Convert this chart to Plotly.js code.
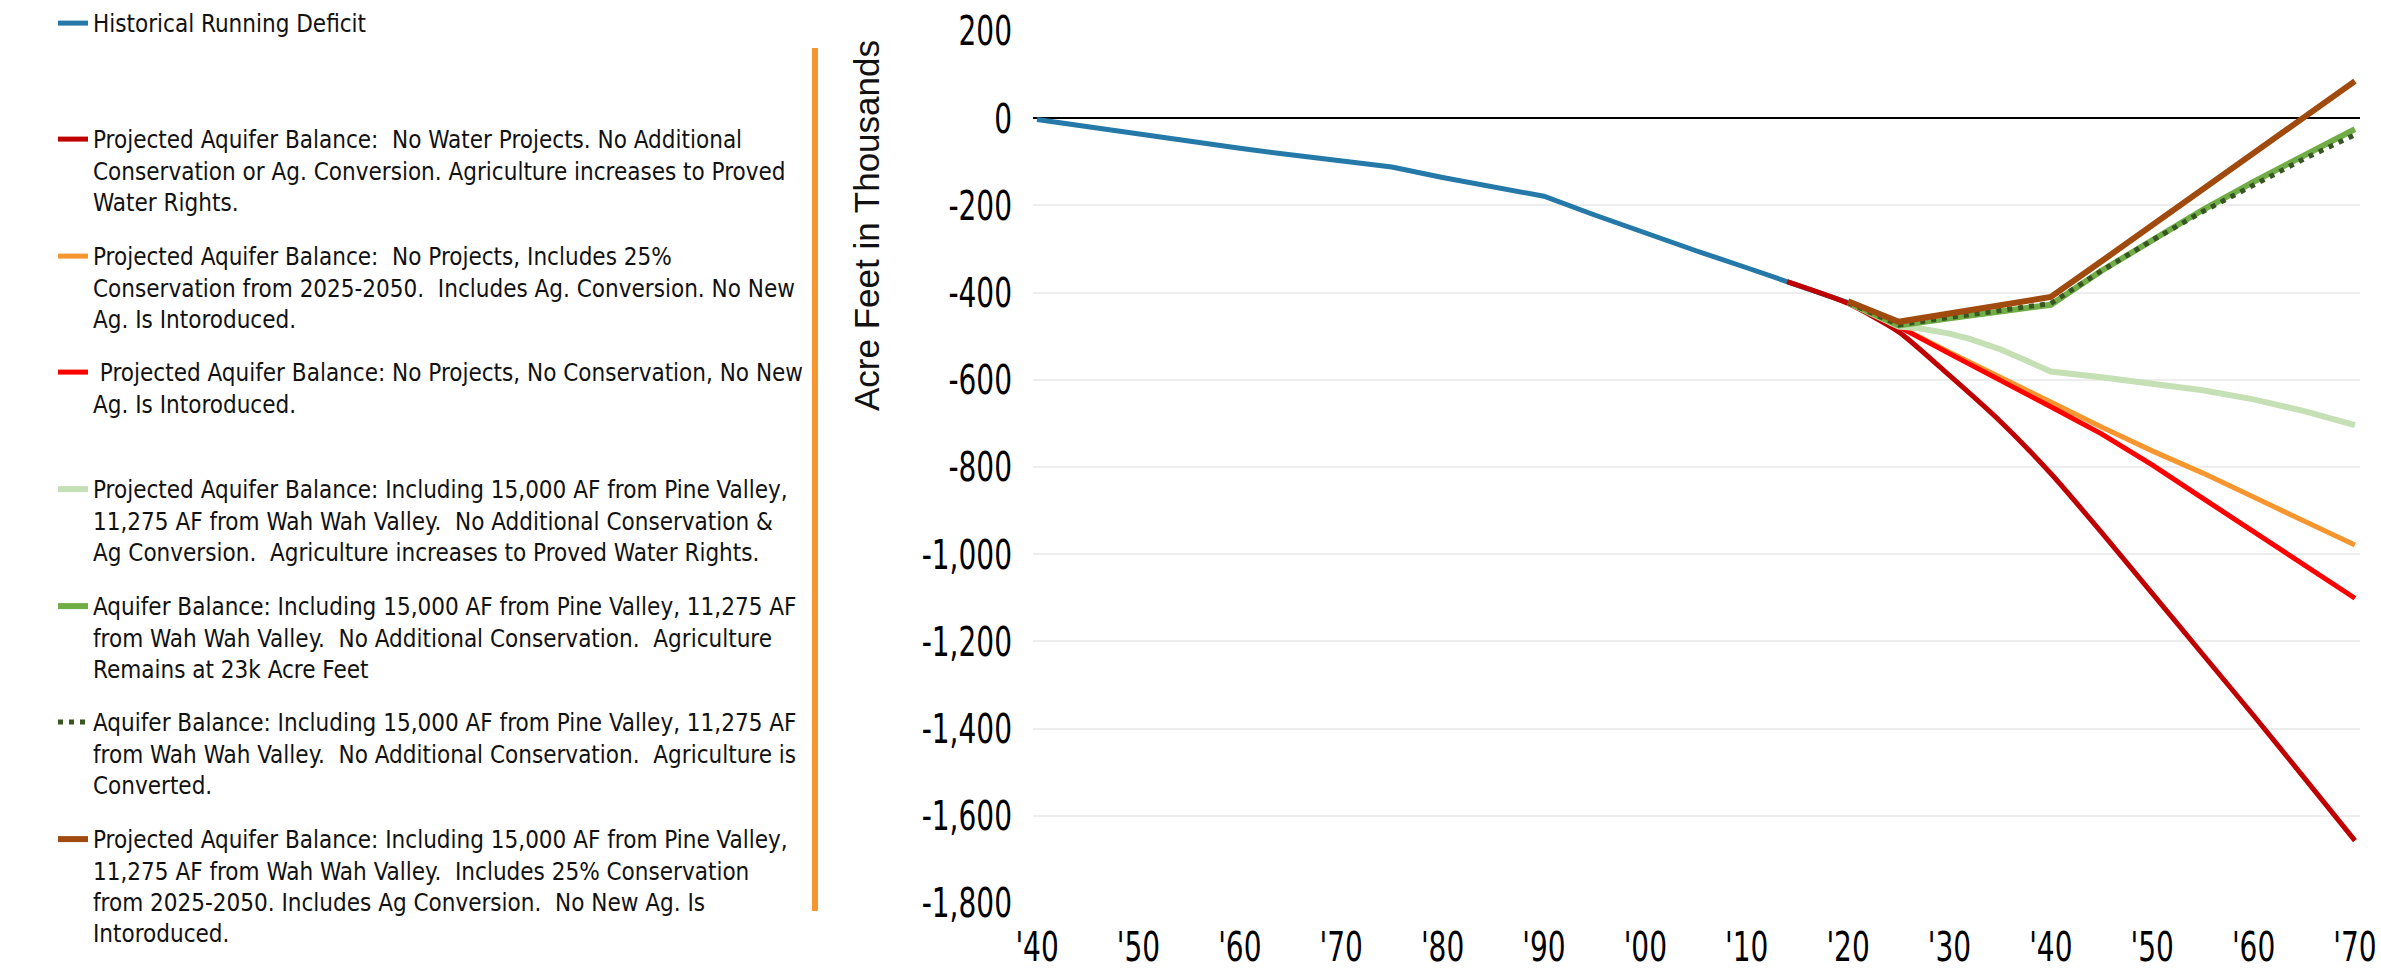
<!DOCTYPE html>
<html>
<head>
<meta charset="utf-8">
<script src="https://cdn.plot.ly/plotly-3.0.1.min.js"></script>
<style>
  html, body { margin: 0; padding: 0; background: #fff; }
  #chart { width: 2381px; height: 971px; }
</style>
</head>
<body>
<div id="chart"></div>
<script>
// ---------- DATA ----------
const histYears   = [1940,1945,1950,1955,1960,1965,1970,1975,1980,1985,1990,1995,2000,2005,2010,2015,2020];
const histValues  = [-3,-20,-37,-54,-69,-84,-98,-112,-136,-158,-179,-222,-264,-304,-343,-382,-423];

const darkRedYears  = [2014,2020,2025,2030,2035,2040,2045,2050,2055,2060,2065,2070];
const darkRedValues = [-375,-425,-490,-590,-695,-815,-950,-1090,-1230,-1370,-1513,-1657];

const projYears = [2020,2025,2030,2035,2040,2045,2050,2055,2060,2065,2070];
const orangeValues = [-423,-478,-537,-595,-651,-708,-763,-814,-869,-924,-979];
const redValues    = [-423,-478,-540,-600,-662,-724,-795,-872,-948,-1025,-1101];
const greenValues  = [-423,-475,-459,-443,-428,-350,-278,-210,-146,-85,-25];
const dottedValues = [-423,-474,-457,-440,-425,-350,-280,-214,-152,-93,-38];
const brownValues  = [-420,-467,-448,-429,-410,-328,-245,-163,-80,3,85];

const lightGreenYears  = [2020,2025,2027,2030,2032,2035,2037,2040,2045,2050,2055,2060,2065,2070];
const lightGreenValues = [-423,-478,-482,-494,-506,-530,-550,-581,-594,-608,-624,-645,-672,-704];

const seriesNames = [
  "Historical Running Deficit",
  "Projected Aquifer Balance:  No Water Projects. No Additional<br>Conservation or Ag. Conversion. Agriculture increases to Proved<br>Water Rights.",
  "Projected Aquifer Balance:  No Projects, Includes 25%<br>Conservation from 2025-2050.  Includes Ag. Conversion. No New<br>Ag. Is Intoroduced.",
  " Projected Aquifer Balance: No Projects, No Conservation, No New<br>Ag. Is Intoroduced.",
  "Projected Aquifer Balance: Including 15,000 AF from Pine Valley,<br>11,275 AF from Wah Wah Valley.  No Additional Conservation &amp;<br>Ag Conversion.  Agriculture increases to Proved Water Rights.",
  "Aquifer Balance: Including 15,000 AF from Pine Valley, 11,275 AF<br>from Wah Wah Valley.  No Additional Conservation.  Agriculture<br>Remains at 23k Acre Feet",
  "Aquifer Balance: Including 15,000 AF from Pine Valley, 11,275 AF<br>from Wah Wah Valley.  No Additional Conservation.  Agriculture is<br>Converted.",
  "Projected Aquifer Balance: Including 15,000 AF from Pine Valley,<br>11,275 AF from Wah Wah Valley.  Includes 25% Conservation<br>from 2025-2050. Includes Ag Conversion.  No New Ag. Is<br>Intoroduced."
];

const xTickVals = [1940,1950,1960,1970,1980,1990,2000,2010,2020,2030,2040,2050,2060,2070];
const xTickText = ["'40","'50","'60","'70","'80","'90","'00","'10","'20","'30","'40","'50","'60","'70"];
const yTickVals = [200,0,-200,-400,-600,-800,-1000,-1200,-1400,-1600,-1800];
const yTickText = ["200","0","-200","-400","-600","-800","-1,000","-1,200","-1,400","-1,600","-1,800"];

const yAxisTitle = "Acre Feet in Thousands";

// ---------- STYLE ----------
const narrow = "'DejaVu Sans Condensed', 'DejaVu Sans', sans-serif";
const W = 2381, H = 971;
const M = {l: 1033, r: 21, t: 31, b: 68, autoexpand: false};
const plotH = H - M.t - M.b, plotW = W - M.l - M.r;
const pxToPaperY = py => (H - M.b - py) / plotH;
const pxToPaperX = px => (px - M.l) / plotW;

const legendLineCenters = [22, 138, 255, 371, 488, 605, 721, 838];

const traces = [
  {x: histYears, y: histValues, color: '#2479A9', width: 5},
  {x: darkRedYears, y: darkRedValues, color: '#C00000', width: 5, shape: 'spline'},
  {x: projYears, y: orangeValues, color: '#F7962F', width: 5},
  {x: projYears, y: redValues, color: '#FF0000', width: 5},
  {x: lightGreenYears, y: lightGreenValues, color: '#C5E0B4', width: 6},
  {x: projYears, y: greenValues, color: '#70AD47', width: 6},
  {x: projYears, y: dottedValues, color: '#375623', width: 5, dash: '5px,6px'},
  {x: projYears, y: brownValues, color: '#A04A0E', width: 6}
].map((t, i) => ({
  type: 'scatter', mode: 'lines',
  x: t.x, y: t.y,
  name: seriesNames[i],
  line: {color: t.color, width: t.width, dash: t.dash || 'solid', shape: t.shape || 'linear', smoothing: 0.6},
  legend: i === 0 ? 'legend' : 'legend' + (i + 1),
  hoverinfo: 'skip'
}));

const layout = {
  width: W, height: H,
  margin: M,
  paper_bgcolor: '#fff', plot_bgcolor: '#fff',
  showlegend: true,
  xaxis: {
    range: [1939.6, 2070.5],
    tickvals: xTickVals, ticktext: xTickText,
    showgrid: false, zeroline: false, showline: false, ticks: '',
    tickfont: {family: narrow, size: 41, color: '#000'},
    ticklabelstandoff: 16,
    ticklabeloverflow: 'allow',
    automargin: false,
    fixedrange: true
  },
  yaxis: {
    range: [-1800, 200],
    tickvals: yTickVals, ticktext: yTickText,
    showgrid: true, gridcolor: '#EDEDED', gridwidth: 2,
    zeroline: true, zerolinecolor: '#000', zerolinewidth: 2,
    showline: false, ticks: '',
    tickfont: {family: narrow, size: 41, color: '#000'},
    ticklabelstandoff: 20,
    ticklabeloverflow: 'allow',
    automargin: false,
    fixedrange: true
  },
  annotations: [{
    text: yAxisTitle, textangle: -90,
    xref: 'paper', yref: 'paper',
    x: pxToPaperX(866), y: pxToPaperY(226),
    xanchor: 'center', yanchor: 'middle', showarrow: false,
    font: {family: "'Liberation Sans', Arial, sans-serif", size: 35, color: '#111'}
  }],
  shapes: [{
    type: 'rect', xref: 'paper', yref: 'paper',
    x0: pxToPaperX(812), x1: pxToPaperX(818),
    y0: pxToPaperY(911), y1: pxToPaperY(48),
    fillcolor: '#F7962F', line: {width: 0}, layer: 'above'
  }]
};

legendLineCenters.forEach((py, i) => {
  const key = i === 0 ? 'legend' : 'legend' + (i + 1);
  layout[key] = {
    x: pxToPaperX(53), xanchor: 'left',
    y: pxToPaperY(py - 21), yanchor: 'top',
    bgcolor: 'rgba(0,0,0,0)', borderwidth: 0,
    valign: 'top',
    font: {family: narrow, size: 24, color: '#111'},
    itemclick: false, itemdoubleclick: false
  };
});

// Narrow the condensed tick glyphs horizontally (text stays real text)
function condense(gd) {
  const apply = (sel, s) => gd.querySelectorAll(sel).forEach(t => {
    const tr = t.getAttribute('transform') || '';
    const mark = ' scale(' + s + ',1) ';
    if (tr.indexOf(mark) !== -1) return;
    const x = parseFloat(t.getAttribute('x')) || 0;
    t.setAttribute('transform', tr + ' translate(' + x + ',0)' + mark + 'translate(' + (-x) + ',0)');
  });
  apply('.xtick text', 0.76);
  apply('.ytick text', 0.76);
}

const gdEl = document.getElementById('chart');
Plotly.newPlot(gdEl, traces, layout, {staticPlot: true, displayModeBar: false})
  .then(gd => {
    condense(gd);
    gd.on('plotly_afterplot', () => condense(gd));
    setTimeout(() => condense(gd), 50);
    setTimeout(() => condense(gd), 300);
  });
</script>
</body>
</html>
